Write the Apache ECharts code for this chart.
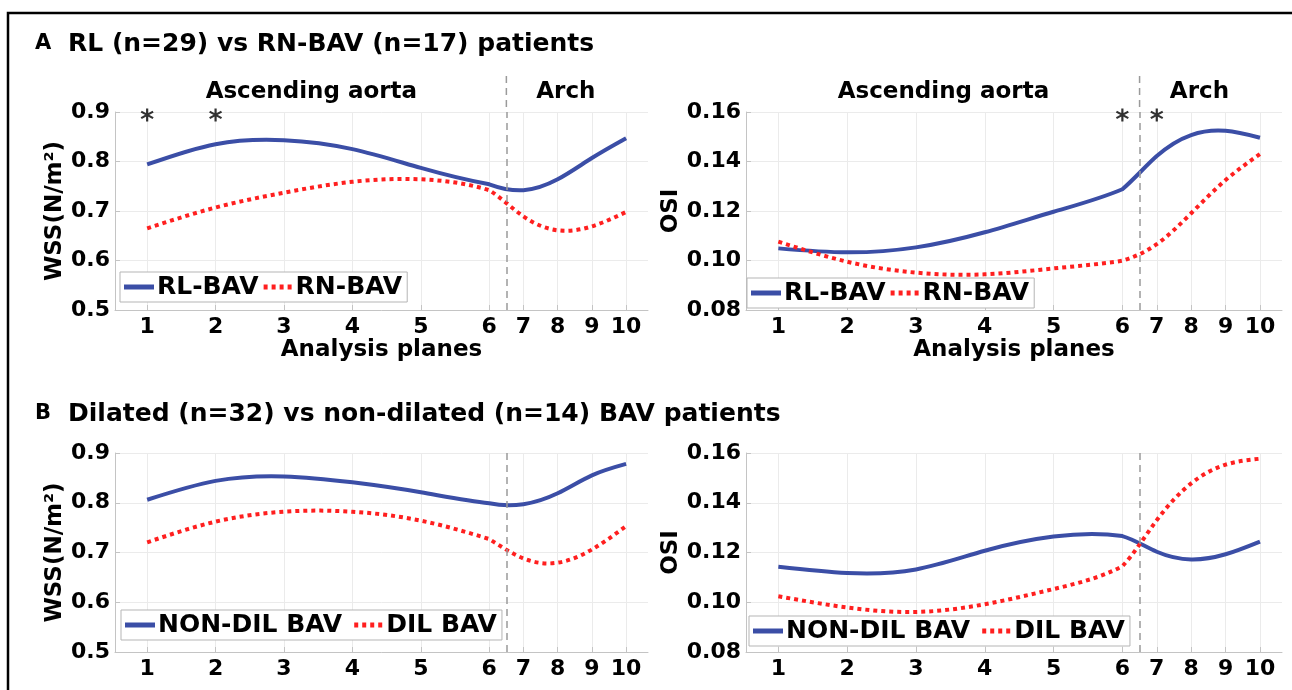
<!DOCTYPE html>
<html><head><meta charset="utf-8">
<script src="https://cdn.jsdelivr.net/npm/echarts@6/dist/echarts.min.js"></script>
<style>html,body{margin:0;padding:0;background:#fff;}#c{width:1292px;height:690px;}</style>
</head><body><div id="c"></div>
<script>
// ---- data ----
const planeLabels = ['1','2','3','4','5','6','7','8','9','10'];
// position of each analysis plane along the x axis (arch planes are closer together)
const planePos = [1,2,3,4,5,6,6.5,7,7.5,8];
const boundaryPos = 6.25; // ascending aorta / arch boundary

const wssRL  = [0.794,0.835,0.843,0.825,0.787,0.754,0.742,0.764,0.807,0.847];
const wssRN  = [0.665,0.707,0.737,0.759,0.764,0.742,0.689,0.661,0.669,0.698];
const osiRL  = [0.1049,0.1033,0.1053,0.1114,0.1197,0.1288,0.1422,0.1507,0.1524,0.1496];
const osiRN  = [0.1076,0.0995,0.0951,0.0944,0.0968,0.0999,0.1066,0.1191,0.1325,0.1430];
const wssNonDil = [0.806,0.844,0.853,0.841,0.821,0.799,0.797,0.819,0.855,0.878];
const wssDil    = [0.7205,0.762,0.782,0.782,0.764,0.727,0.688,0.6795,0.706,0.753];
const osiNonDil = [0.1143,0.1118,0.1132,0.1207,0.1264,0.1266,0.1203,0.1172,0.1193,0.1244];
const osiDil    = [0.1024,0.0979,0.0961,0.0992,0.1053,0.1145,0.1330,0.1478,0.1553,0.1577];

const sigWssPlanes = [1,2];   // asterisks, panel A WSS
const sigOsiPlanes = [6,7];   // asterisks, panel A OSI
const sigWssLevel = 0.894;
const sigOsiLevel = 0.1588;

const titleA = 'RL (n=29) vs RN-BAV (n=17) patients';
const titleB = 'Dilated (n=32) vs non-dilated (n=14) BAV patients';

// ---- styling ----
const FONT = 'DejaVu Sans';
const BLUE = '#3b4ea6';
const RED = '#ff1f1f';
const AXC = '#c4c4c4';
const GRIDC = '#ebebeb';

const chart = echarts.init(document.getElementById('c'), null, {renderer:'canvas'});

function pairs(vals){ return vals.map((v,i)=>[planePos[i], v]); }
function labelFor(v){
  for (let i=0;i<planePos.length;i++) if (Math.abs(planePos[i]-v)<1e-6) return planeLabels[i];
  return '';
}
// natural cubic spline over the plane index, drawn through the pixel points
function splinePath(P){
  const n = P.length;
  const M = new Array(n).fill(0);
  if (n > 2){
    const a=[],b=[],c=[],d=[];
    for (let i=1;i<n-1;i++){
      a.push(1); b.push(4); c.push(1);
      d.push(6*(P[i+1][1]-2*P[i][1]+P[i-1][1]));
    }
    const m = b.length;
    for (let i=1;i<m;i++){ const w=a[i]/b[i-1]; b[i]-=w*c[i-1]; d[i]-=w*d[i-1]; }
    const x = new Array(m);
    x[m-1]=d[m-1]/b[m-1];
    for (let i=m-2;i>=0;i--) x[i]=(d[i]-c[i]*x[i+1])/b[i];
    for (let i=0;i<m;i++) M[i+1]=x[i];
  }
  let s = 'M'+P[0][0]+','+P[0][1];
  for (let i=0;i<n-1;i++){
    const dx = P[i+1][0]-P[i][0], sl = P[i+1][1]-P[i][1];
    const d0 = sl - (2*M[i]+M[i+1])/6;
    const d1 = sl + (M[i]+2*M[i+1])/6;
    s += 'C'+(P[i][0]+dx/3)+','+(P[i][1]+d0/3)+','+(P[i+1][0]-dx/3)+','+(P[i+1][1]-d1/3)+','+P[i+1][0]+','+P[i+1][1];
  }
  return s;
}
const grids = [
  {left:115, top:112, width:533, height:198},
  {left:746, top:112, width:536, height:198},
  {left:115, top:453, width:533, height:199},
  {left:746, top:453, width:536, height:199}
];
function xAx(gi, named){
  return {
    type:'value', gridIndex:gi, min:0.53, max:8.32,
    axisLine:{show:true, onZero:false, lineStyle:{color:AXC, width:1}},
    axisTick:{show:true, inside:true, length:5, customValues:planePos, lineStyle:{color:AXC}},
    axisLabel:{customValues:planePos, formatter:(v)=>labelFor(v), color:'#000', fontWeight:'bold', fontSize:22, fontFamily:FONT, margin:6},
    splitLine:{show:true, lineStyle:{color:GRIDC, width:1}},
    name: named ? 'Analysis planes' : '',
    nameLocation:'middle', nameGap:26,
    nameTextStyle:{color:'#000', fontWeight:'bold', fontSize:23, fontFamily:FONT}
  };
}
function yAx(gi, isWss){
  return {
    type:'value', gridIndex:gi,
    min: isWss?0.5:0.08, max: isWss?0.9:0.16, interval: isWss?0.1:0.02,
    axisLine:{show:true, lineStyle:{color:AXC, width:1}},
    axisTick:{show:true, inside:true, length:5, lineStyle:{color:AXC}},
    axisLabel:{formatter:(v)=> isWss? v.toFixed(1) : v.toFixed(2), color:'#000', fontWeight:'bold', fontSize:22, fontFamily:FONT, margin:5},
    splitLine:{show:true, lineStyle:{color:GRIDC, width:1}},
    name: isWss ? 'WSS(N/m\u00B2)' : 'OSI',
    nameLocation:'middle', nameGap: isWss?48:55,
    nameTextStyle:{color:'#000', fontWeight:'bold', fontSize:23, fontFamily:FONT}
  };
}
const boundaryLine = {
  silent:true, symbol:'none', animation:false,
  label:{show:false},
  lineStyle:{color:'#9a9a9a', type:[7,5], width:1.5},
  data:[{xAxis:boundaryPos}]
};
function curveSeries(name, vals, gi, dotted, withBoundary){
  const color = dotted?RED:BLUE;
  const s = {
    type:'custom', name, coordinateSystem:'cartesian2d', xAxisIndex:gi, yAxisIndex:gi,
    data:pairs(vals), encode:{x:0, y:1}, animation:false, z:3, silent:true,
    itemStyle:{color},
    renderItem:(params, api)=>{
      if (params.dataIndex !== 0) return null;
      const pts = vals.map((v,i)=>api.coord([planePos[i], v]));
      return {type:'path', shape:{pathData:splinePath(pts)},
        style:{fill:null, stroke:color, lineWidth:4, lineDash: dotted?[4,4]:null, lineCap:'butt'}};
    }
  };
  if (withBoundary) s.markLine = boundaryLine;
  return s;
}
const starPath = 'path://M-1.6,-10L1.6,-10L1.6,10L-1.6,10Z M7.86,-6.39L9.46,-3.61L-7.86,6.39L-9.46,3.61Z M9.46,3.61L7.86,6.39L-9.46,-3.61L-7.86,-6.39Z';
function starSeries(planes, level, gi){
  return {
    type:'scatter', xAxisIndex:gi, yAxisIndex:gi, animation:false, silent:true,
    symbol:starPath, symbolSize:13, itemStyle:{color:'#000'}, z:5,
    data: planes.map(p=>[planePos[p-1], level])
  };
}
const solidIcon = 'path://M0,0L30,0L30,5L0,5Z';
const dotIcon = 'path://M0,0L4,0L4,5L0,5Z M8,0L12,0L12,5L8,5Z M16,0L20,0L20,5L16,5Z M24,0L28,0L28,5L24,5Z';
function legend(names, left, top, gap){
  return {
    data:[{name:names[0], icon:solidIcon},{name:names[1], icon:dotIcon}],
    left, top, orient:'horizontal', itemWidth:30, itemHeight:5, itemGap:gap,
    padding:[2,5,2,4], borderColor:'#b5b5b5', borderWidth:1, backgroundColor:'#fff',
    selectedMode:false,
    textStyle:{color:'#000', fontWeight:'bold', fontSize:25, fontFamily:FONT, lineHeight:26, padding:[0,0,0,-2]}
  };
}

const option = {
  backgroundColor:'#fff',
  animation:false,
  grid: grids,
  xAxis:[xAx(0,true), xAx(1,true), xAx(2,false), xAx(3,false)],
  yAxis:[yAx(0,true), yAx(1,false), yAx(2,true), yAx(3,false)],
  legend:[
    legend(['RL-BAV','RN-BAV'], 120, 272, 5),
    legend(['RL-BAV','RN-BAV'], 747, 278, 5),
    legend(['NON-DIL BAV','DIL BAV'], 121, 610, 12),
    legend(['NON-DIL BAV','DIL BAV'], 749, 616, 12)
  ],
  series:[
    curveSeries('RL-BAV', wssRL, 0, false, true),
    curveSeries('RN-BAV', wssRN, 0, true, false),
    curveSeries('RL-BAV', osiRL, 1, false, true),
    curveSeries('RN-BAV', osiRN, 1, true, false),
    curveSeries('NON-DIL BAV', wssNonDil, 2, false, true),
    curveSeries('DIL BAV', wssDil, 2, true, false),
    curveSeries('NON-DIL BAV', osiNonDil, 3, false, true),
    curveSeries('DIL BAV', osiDil, 3, true, false),
    starSeries(sigWssPlanes, sigWssLevel, 0),
    starSeries(sigOsiPlanes, sigOsiLevel, 1)
  ]
};
chart.setOption(option);

// annotations placed through the axes' own scales
function px(gi, x, y){ return chart.convertToPixel({gridIndex:gi}, [x,y]); }
const g = [];
g.push({type:'rect', shape:{x:8, y:13, width:1300, height:700}, style:{fill:'none', stroke:'#000', lineWidth:2.5}, silent:true});
g.push({type:'text', x:35, y:44, style:{text:'A', font:'bold 21px "DejaVu Sans"', fill:'#000', verticalAlign:'middle'}});
g.push({type:'text', x:68, y:44, style:{text:titleA, font:'bold 25px "DejaVu Sans"', fill:'#000', verticalAlign:'middle'}});
g.push({type:'text', x:35, y:414, style:{text:'B', font:'bold 21px "DejaVu Sans"', fill:'#000', verticalAlign:'middle'}});
g.push({type:'text', x:68, y:414, style:{text:titleB, font:'bold 25px "DejaVu Sans"', fill:'#000', verticalAlign:'middle'}});
[0,1].forEach(gi=>{
  const top = px(gi, boundaryPos, gi===0?0.9:0.16);
  g.push({type:'line', shape:{x1:top[0], y1:76, x2:top[0], y2:top[1]}, style:{stroke:'#9a9a9a', lineWidth:1.5, lineDash:[7,5]}, silent:true});
  const a = px(gi, 3.4, gi===0?0.9:0.16);
  g.push({type:'text', x:a[0], y:92, style:{text:'Ascending aorta', font:'bold 23px "DejaVu Sans"', fill:'#000', align:'center', verticalAlign:'middle'}});
  const b = px(gi, 7.12, gi===0?0.9:0.16);
  g.push({type:'text', x:b[0], y:92, style:{text:'Arch', font:'bold 23px "DejaVu Sans"', fill:'#000', align:'center', verticalAlign:'middle'}});
});
chart.setOption({graphic:{elements:g}});
</script></body></html>
